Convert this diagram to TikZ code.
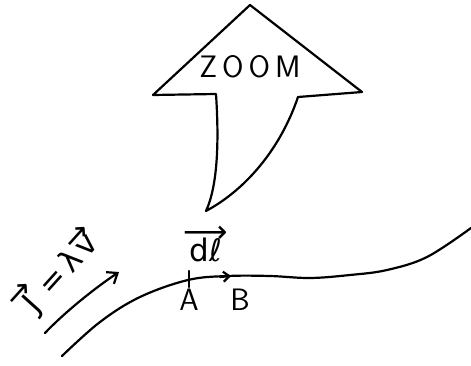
\documentclass[tikz,border=0pt]{standalone}
\usepackage{fontspec}
\newfontfamily\hand{DejaVu Sans}
\usetikzlibrary{arrows.meta}
\begin{document}
\begin{tikzpicture}[x=1pt,y=-1pt,line join=round,line cap=round,
  pen/.style={line width=2.2pt,black},
  lbl/.style={inner sep=0pt,font=\sffamily\fontsize{31}{32}\selectfont},
  hw/.style={inner sep=0pt,font=\hand\fontsize{31}{31}\selectfont}]
\useasboundingbox (0,0) rectangle (471,366);
% big ZOOM arrow
\draw[pen] (250,5) -- (153,95) -- (216,94)
  .. controls (219,140) and (218,185) .. (206,211)
  .. controls (245,190) and (280,150) .. (298,97)
  -- (362,92) -- cycle;
\node[lbl] (zoom) at (250,67) {Z\kern5pt O\kern5pt O\kern5pt M};
% wire
\draw[pen] plot[smooth,tension=0.6] coordinates {(62,356) (100,322) (140,297) (188,280) (228,276) (270,276) (310,278) (350,275) (387,270) (427,257) (471,228)};
\coordinate (tA1) at (189,271);
\coordinate (tA2) at (189,287);
\draw[pen] (tA1) -- (tA2);
\coordinate (bArr) at (231,276);
\coordinate (bArr0) at (220,277);
\draw[pen,-{Straight Barb[length=6pt,width=10pt]}] (bArr0) -- (bArr);
\node[lbl] (A) at (189,300) {A};
\node[lbl] (B) at (240,300) {B};
% dl
\node[hw,anchor=base] (dl) at (206,261) {\shortstack{⟶\\[-8pt]dℓ}};
% current arrow
\coordinate (j0) at (45,333);
\coordinate (j1) at (119,272);
\draw[pen,-{Straight Barb[length=9pt,width=14pt]}] (j0) .. controls (65,312) and (95,288) .. (j1);
\node[hw,rotate=48] (J) at (56,272) {\shortstack{→\\[-8pt]J}\,=\,λ\shortstack{→\\[-8pt]v}};
\end{tikzpicture}
\end{document}
